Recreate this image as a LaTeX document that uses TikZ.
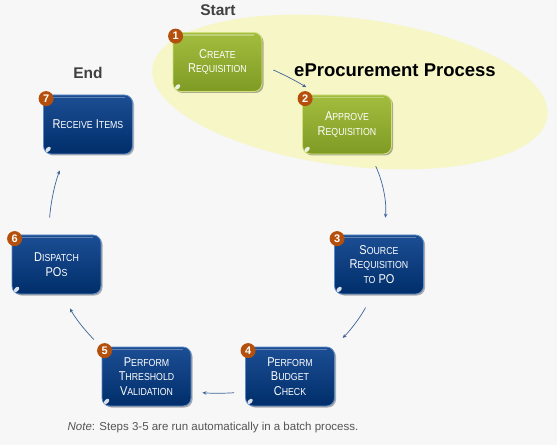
\documentclass[tikz,border=0pt]{standalone}
\usepackage{fontspec}
\setmainfont{Liberation Sans}
\newfontfamily\boxfont[FakeStretch=0.86]{Liberation Sans}
\usepackage{tikz}
\usetikzlibrary{arrows.meta,positioning,shapes.geometric,shadows}
\definecolor{bgcol}{RGB}{247,247,247}
\definecolor{ovalcol}{RGB}{246,246,198}
\definecolor{gtop}{RGB}{162,189,62}
\definecolor{gbot}{RGB}{128,155,36}
\definecolor{gedge}{RGB}{208,224,128}
\definecolor{btop}{RGB}{28,78,148}
\definecolor{bbot}{RGB}{0,46,106}
\definecolor{bedge}{RGB}{92,138,198}
\definecolor{badgecol}{RGB}{181,80,12}
\definecolor{flowcol}{RGB}{62,99,153}
\definecolor{labcol}{RGB}{64,64,64}
\definecolor{notecol}{RGB}{85,85,85}
\newcommand{\smcap}[2]{#1{\fontsize{10.2}{14.5}\selectfont\MakeUppercase{#2}}}

\begin{document}
\begin{tikzpicture}[x=1pt,y=1pt,
  stepbox/.style={rectangle,rounded corners=8pt,minimum width=89pt,minimum height=59pt,
    inner sep=2pt,align=center,text=white,line width=0.8pt,
    font=\boxfont\fontsize{12.8}{14.5}\selectfont,
    drop shadow={shadow xshift=1.5pt,shadow yshift=-1.5pt,fill=black,opacity=0.3}},
  reqbox/.style={stepbox,top color=gtop,bottom color=gbot,draw=gedge},
  batchbox/.style={stepbox,top color=btop,bottom color=bbot,draw=bedge},
  badge/.style={circle,fill=badgecol,text=white,inner sep=0pt,minimum size=15pt,
    font=\bfseries\fontsize{11}{11}\selectfont},
  lab/.style={font=\bfseries\fontsize{15.5}{18}\selectfont,text=labcol},
  flow/.style={->,flowcol,line width=0.7pt},
  >={Stealth[length=4pt,width=3.5pt]}]
\useasboundingbox (0,0) rectangle (557,445);
\fill[bgcol] (0,0) rectangle (557,445);
\node[ellipse,fill=ovalcol,minimum width=398pt,minimum height=148pt,rotate=-7] (oval) at (350,353) {};

\node[reqbox] (b1) at (217.5,383) {\smcap{C}{reate}\\\smcap{R}{equisition}};
\node[reqbox] (b2) at (347,320.5) {\smcap{A}{pprove}\\\smcap{R}{equisition}};
\node[batchbox] (b3) at (379,180.5) {\smcap{S}{ource}\\\smcap{R}{equisition}\\\smcap{}{to} PO};
\node[batchbox] (b4) at (290,68.5) {\smcap{P}{erform}\\\smcap{B}{udget}\\\smcap{C}{heck}};
\node[batchbox] (b5) at (146.5,68.5) {\smcap{P}{erform}\\\smcap{T}{hreshold}\\\smcap{V}{alidation}};
\node[batchbox] (b6) at (56.5,180.5) {\smcap{D}{ispatch}\\PO\smcap{}{s}};
\node[batchbox] (b7) at (88,320.5) {\smcap{R}{eceive} \smcap{I}{tems}};

\foreach \b in {b1,b2,b3,b4,b5,b6,b7}{
  \draw[white,opacity=0.3,line width=1.5pt] ([shift={(8pt,-3pt)}]\b.north west) -- ([shift={(-8pt,-3pt)}]\b.north east);
  \fill[white,opacity=0.85] ([shift={(5pt,5pt)}]\b.south west) circle [x radius=3.2pt,y radius=2pt,rotate=45];
}

\foreach \i in {1,...,7}
  \node[badge,xshift=3pt,yshift=-4pt] (n\i) at (b\i.north west) {\i};

\node[lab] (start) at (218,435) {Start};
\node[lab] (end) at (88,372) {End};
\node[font=\bfseries\fontsize{18.5}{22}\selectfont] (title) at (395,375) {eProcurement Process};
\node[text=notecol,font=\fontsize{11.5}{13}\selectfont] (note) at (213,17) {\textit{Note}: Steps 3-5 are run automatically in a batch process.};

\draw[flow,shorten <=12pt,shorten >=14pt] (b1.-4) to[bend left=4] (b2.134);
\draw[flow,shorten <=13pt,shorten >=17pt] (b2.-52) to[bend left=15] (b3.81);
\draw[flow,shorten <=15pt,shorten >=12pt] (b3.-102) to[bend left=8] (b4.34);
\draw[flow,shorten <=11pt,shorten >=11pt] (b4.-161) to[bend left=4] (b5.-19);
\draw[flow,shorten <=11pt,shorten >=16pt] (b5.147) to[bend left=8] (b6.-79);
\draw[flow,shorten <=17pt,shorten >=17pt] (b6.105) to[bend left=8] (b7.-127);
\end{tikzpicture}
\end{document}
